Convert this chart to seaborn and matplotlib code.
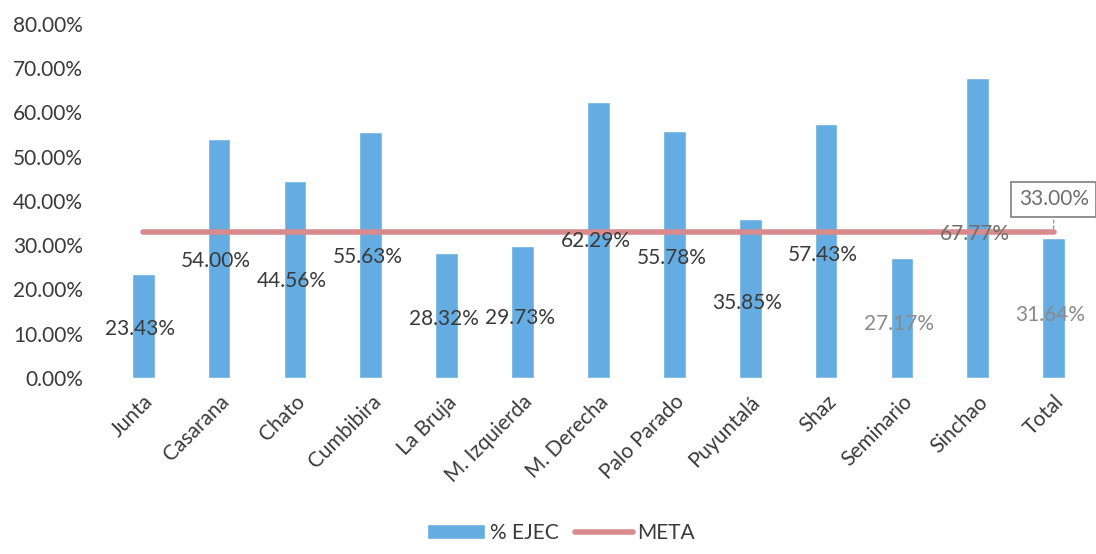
import numpy as np
import pandas as pd
import matplotlib
matplotlib.use("Agg")
import matplotlib.pyplot as plt
import seaborn as sns
from matplotlib.ticker import FuncFormatter, MultipleLocator

# datos
sectores = ['Junta', 'Casarana', 'Chato', 'Cumbibira', 'La Bruja', 'M. Izquierda',
            'M. Derecha', 'Palo Parado', 'Puyuntalá', 'Shaz', 'Seminario', 'Sinchao', 'Total']
ejec = [23.43, 54.00, 44.56, 55.63, 28.32, 29.73, 62.29, 55.78, 35.85, 57.43, 27.17, 67.77, 31.64]
meta = [33.00] * len(sectores)
# altura a la que quedaron las etiquetas de cada barra (en %)
etiqueta_y = [11.1, 26.3, 21.8, 27.2, 13.4, 13.6, 31.0, 27.0, 17.0, 27.7, 12.2, 32.6, 14.3]
etiqueta_color = ['#3a3a3a'] * 10 + ['#8a8a8a', '#6f6f6f', '#8a8a8a']

sns.set_style("white")
plt.rcParams['font.family'] = ['Lato', 'DejaVu Sans']

df = pd.DataFrame({'sector': sectores, 'ejec': ejec})

fig = plt.figure(figsize=(10.96, 5.54), dpi=100)
ax = fig.add_axes([0.096, 0.318, 0.9, 0.639])

sns.barplot(data=df, x='sector', y='ejec', color='#64ace2', saturation=1,
            width=0.3, ax=ax, label='% EJEC')
sns.lineplot(x=np.arange(len(sectores)), y=meta, color='#d98a8c', linewidth=4,
             ax=ax, label='META')

for i, (v, yy, c) in enumerate(zip(ejec, etiqueta_y, etiqueta_color)):
    ax.text(i - 0.04, yy, f"{v:.2f}%", ha='center', va='center', fontsize=15, color=c)

# etiqueta de la meta con recuadro
last = len(sectores) - 1
ax.annotate(f"{meta[-1]:.2f}%", xy=(last, meta[-1]), xytext=(last, 40.3),
            ha='center', va='center', fontsize=15, color='#6f6f6f',
            bbox=dict(boxstyle='square,pad=0.35', fc='white', ec='#7f7f7f', lw=1.2),
            arrowprops=dict(arrowstyle='-', color='#9a9a9a', ls=(0, (2, 2)), lw=1))

ax.set_ylim(0, 80)
ax.set_xlim(-0.5, len(sectores) - 0.5)
ax.yaxis.set_major_locator(MultipleLocator(10))
ax.yaxis.set_major_formatter(FuncFormatter(lambda v, p: f"{v:.2f}%"))
ax.tick_params(axis='y', labelsize=15, colors='#3a3a3a', length=0, pad=16)
ax.tick_params(axis='x', labelsize=15, colors='#3a3a3a', length=0, pad=10)
plt.setp(ax.get_xticklabels(), rotation=45, ha='right', rotation_mode='anchor')
ax.set_xlabel('')
ax.set_ylabel('')
sns.despine(ax=ax, left=True, bottom=True)

ax.get_legend().remove()
h, l = ax.get_legend_handles_labels()
orden = [l.index('% EJEC'), l.index('META')]
fig.legend([h[k] for k in orden], [l[k] for k in orden], loc='lower center',
           bbox_to_anchor=(0.512, -0.014), ncol=2, frameon=False, fontsize=15,
           handlelength=2.8, handletextpad=0.2, columnspacing=0.8, labelcolor='#3a3a3a')

fig.savefig('out.png', dpi=100)
